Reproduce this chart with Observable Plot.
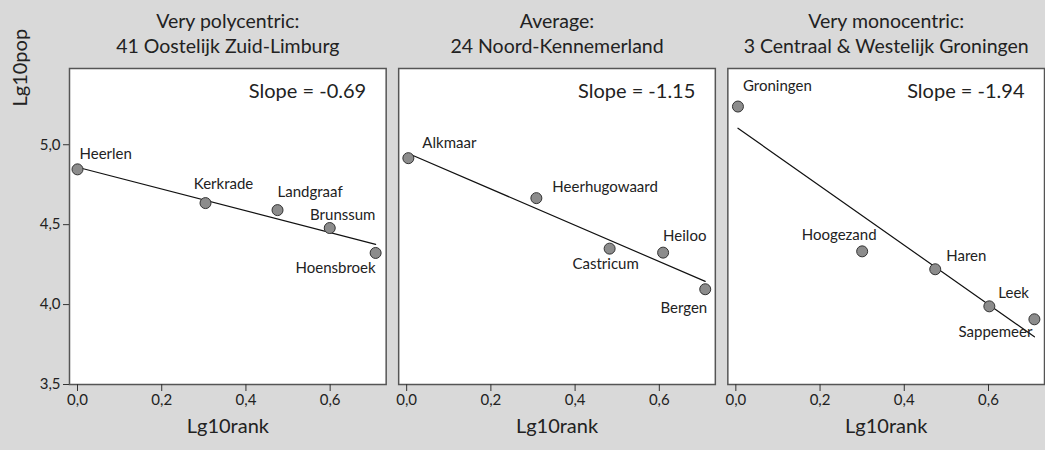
<!DOCTYPE html>
<html>
<head>
<meta charset="utf-8">
<script src="https://cdn.jsdelivr.net/npm/d3@7"></script>
<script src="https://cdn.jsdelivr.net/npm/@observablehq/plot@0.6"></script>
<style>
  html, body { margin: 0; padding: 0; background: #d9d9d9; }
</style>
</head>
<body>
<div id="chart"></div>
<script>
// ---- data ----
const panels = [
  "Very polycentric:\n41 Oostelijk Zuid-Limburg",
  "Average:\n24 Noord-Kennemerland",
  "Very monocentric:\n3 Centraal & Westelijk Groningen"
];
const slopes = ["Slope = -0.69", "Slope = -1.15", "Slope = -1.94"];

const towns1 = ["Heerlen", "Kerkrade", "Landgraaf", "Brunssum", "Hoensbroek"];
const lgRank1 = [0.0, 0.304, 0.475, 0.599, 0.708];
const lgPop1 = [4.846, 4.635, 4.591, 4.479, 4.323];

const towns2 = ["Alkmaar", "Heerhugowaard", "Castricum", "Heiloo", "Bergen"];
const lgRank2 = [0.004, 0.308, 0.482, 0.609, 0.709];
const lgPop2 = [4.916, 4.666, 4.350, 4.325, 4.096];

const towns3 = ["Groningen", "Hoogezand", "Haren", "Leek", "Sappemeer"];
const lgRank3 = [0.005, 0.300, 0.4735, 0.602, 0.709];
const lgPop3 = [5.239, 4.333, 4.221, 3.989, 3.908];

const xTicks = [0, 0.2, 0.4, 0.6];
const yTicks = [3.5, 4.0, 4.5, 5.0];
const xLabel = "Lg10rank";
const yLabel = "Lg10pop";

// ---- label placement (layout only) ----
const labelPlacement = {
  Heerlen: ["start", 2, -15.5],
  Kerkrade: ["middle", 18, -19],
  Landgraaf: ["start", 0, -17.5],
  Brunssum: ["middle", 13, -13],
  Hoensbroek: ["end", 0, 15.5],
  Alkmaar: ["start", 14, -15],
  Heerhugowaard: ["start", 16, -10.5],
  Castricum: ["middle", -4, 15.5],
  Heiloo: ["start", 0, -16],
  Bergen: ["end", 2, 19],
  Groningen: ["start", 5, -20.5],
  Hoogezand: ["middle", -23, -16],
  Haren: ["start", 11, -13.5],
  Leek: ["start", 9, -13],
  Sappemeer: ["end", -2, 13]
};

// ---- build table ----
const sets = [[towns1, lgRank1, lgPop1], [towns2, lgRank2, lgPop2], [towns3, lgRank3, lgPop3]];
const rows = [];
sets.forEach(([t, xr, yp], i) => {
  t.forEach((name, j) => rows.push({panel: panels[i], town: name, x: xr[j], y: yp[j]}));
});
const panelRows = panels.map((p, i) => ({panel: p, slope: slopes[i]}));

const comma = d => d.toFixed(1).replace(".", ",");
const FONT = "Lato, 'Open Sans', sans-serif";
const ink = "#222";

const labelMarks = rows.map(r => {
  const [anchor, dx, dy] = labelPlacement[r.town];
  return Plot.text([r], {
    x: "x", y: "y", fx: "panel", text: "town",
    textAnchor: anchor, dx, dy, fontSize: 15, fill: ink
  });
});

const chart = Plot.plot({
  width: 1045,
  height: 450,
  marginLeft: 69,
  marginRight: 1,
  marginTop: 68,
  marginBottom: 66,
  style: {background: "#d9d9d9", fontFamily: FONT, color: ink},
  fx: {domain: panels, axis: null, paddingInner: 0.038, paddingOuter: 0, round: false, label: null},
  x: {domain: [-0.019, 0.733]},
  y: {domain: [3.5, 5.477]},
  marks: [
    Plot.frame({fill: "white", stroke: "#555", strokeWidth: 1.5}),
    Plot.axisX({ticks: xTicks, tickFormat: comma, tickSize: 7, tickPadding: 3, fontSize: 15, label: null, stroke: "#333"}),
    Plot.axisY({ticks: yTicks, tickFormat: comma, tickSize: 6, tickPadding: 3, fontSize: 15, label: null, stroke: "#333"}),
    Plot.linearRegressionY(rows, {x: "x", y: "y", fx: "panel", ci: 0, stroke: "#111", strokeWidth: 1.2}),
    Plot.dot(rows, {x: "x", y: "y", fx: "panel", r: 5.5, fill: "#8c8c8c", stroke: "#333", strokeWidth: 1}),
    ...labelMarks,
    Plot.text(panelRows, {fx: "panel", text: "slope", frameAnchor: "top-right", lineAnchor: "bottom", dx: -20, dy: 29, fontSize: 20, fill: ink}),
    Plot.text(panelRows, {fx: "panel", text: "panel", frameAnchor: "top", lineAnchor: "bottom", dy: -16, lineHeight: 1.25, fontSize: 19.5, fill: ink}),
    Plot.text(panelRows, {fx: "panel", text: () => xLabel, frameAnchor: "bottom", dy: 48.5, fontSize: 20, fill: ink}),
    Plot.text([panelRows[0]], {fx: "panel", text: () => yLabel, frameAnchor: "top-left", rotate: -90, dx: -57, dy: 38, fontSize: 20, fill: ink})
  ]
});
document.getElementById("chart").appendChild(chart);
</script>
</body>
</html>
